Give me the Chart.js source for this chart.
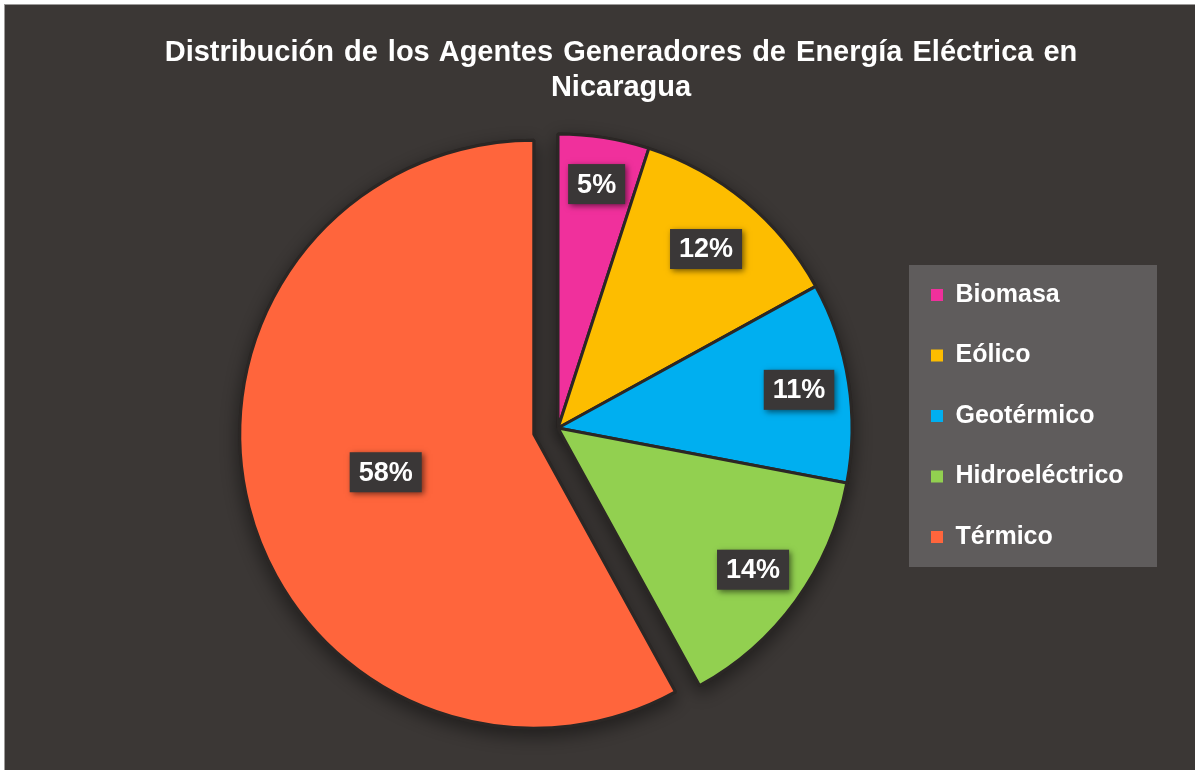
<!DOCTYPE html>
<html lang="es">
<head>
<meta charset="UTF-8">
<title>Agentes Generadores de Energía Eléctrica - Nicaragua</title>
<script src="https://cdn.jsdelivr.net/npm/chart.js"></script>
<style>
    body { margin: 0; background: #fff; }
    .marco {
        position: absolute;
        left: 4px;
        top: 4px;
        width: 1190px;
        height: 765px;
        border-top: 1px solid #9c9a99;
        border-left: 1px solid #9c9a99;
        background: #3b3735;
    }
    .titulo {
        position: absolute;
        left: 52px;
        top: 34px;
        width: 1138px;
        text-align: center;
        color: #fff;
        font: bold 29px 'Liberation Sans', Arial, sans-serif;
        line-height: 35px;
        word-spacing: 2px;
    }
</style>
</head>
<body>
<div class="marco"><canvas id="grafico"></canvas></div>
<div class="titulo">Distribución de los Agentes Generadores de Energía Eléctrica en<br>Nicaragua</div>
<script>
const categorias = ['Biomasa', 'Eólico', 'Geotérmico', 'Hidroeléctrico', 'Térmico'];
const porcentajes = [5, 12, 11, 14, 58];
const colores = ['#f0309c', '#fdbd00', '#00aff0', '#92d050', '#ff653c'];

// estilo: separación del sector Térmico y distancia de las etiquetas
const separacion = [0, 0, 0, 0, 25];
const radioEtiqueta = [0.84, 0.79, 0.83, 0.82, 0.52];

Chart.defaults.font.family = "'Liberation Sans', Arial, sans-serif";

// dibuja los sectores (con sombra y el sector separado)
const sectores = {
    id: 'sectores',
    beforeDatasetDraw(chart, args) {
        const ctx = chart.ctx;
        const arcs = args.meta.data;
        for (let paso = 0; paso < 2; paso++) {
            arcs.forEach((arc, i) => {
                ctx.save();
                if (paso === 0) {
                    ctx.shadowColor = 'rgba(0,0,0,0.45)';
                    ctx.shadowBlur = 18;
                    ctx.shadowOffsetY = 6;
                }
                if (separacion[i]) {
                    const mid = (arc.startAngle + arc.endAngle) / 2;
                    ctx.translate(Math.cos(mid) * separacion[i], Math.sin(mid) * separacion[i]);
                }
                arc.draw(ctx);
                ctx.restore();
            });
        }
        return false;
    },
    afterDatasetsDraw(chart) {
        const ctx = chart.ctx;
        const arcs = chart.getDatasetMeta(0).data;
        ctx.save();
        ctx.font = "bold 27px 'Liberation Sans', Arial, sans-serif";
        ctx.textAlign = 'center';
        ctx.textBaseline = 'middle';
        arcs.forEach((arc, i) => {
            const mid = (arc.startAngle + arc.endAngle) / 2;
            const r = arc.outerRadius * radioEtiqueta[i] + separacion[i];
            const x = arc.x + Math.cos(mid) * r;
            const y = arc.y + Math.sin(mid) * r;
            const texto = porcentajes[i] + '%';
            const w = ctx.measureText(texto).width + 18;
            const h = 40;
            ctx.save();
            ctx.shadowColor = 'rgba(0,0,0,0.55)';
            ctx.shadowBlur = 6;
            ctx.shadowOffsetX = 2;
            ctx.shadowOffsetY = 2;
            ctx.fillStyle = '#3a3737';
            ctx.fillRect(x - w / 2, y - h / 2, w, h);
            ctx.restore();
            ctx.fillStyle = '#ffffff';
            ctx.fillText(texto, x, y + 1);
        });
        ctx.restore();
    }
};

// caja gris detrás de la leyenda
const cajaLeyenda = {
    id: 'cajaLeyenda',
    beforeDraw(chart) {
        const hb = chart.legend.legendHitBoxes;
        if (!hb || !hb.length) return;
        const ultimo = hb[hb.length - 1];
        const ctx = chart.ctx;
        ctx.save();
        ctx.fillStyle = '#5f5c5c';
        ctx.fillRect(hb[0].left - 22, hb[0].top - 17.5, 248, ultimo.top + ultimo.height - hb[0].top + 35);
        ctx.restore();
    }
};

new Chart(document.getElementById('grafico'), {
    type: 'pie',
    data: {
        labels: categorias,
        datasets: [{
            data: porcentajes,
            backgroundColor: colores,
            borderColor: '#2b2725',
            borderWidth: 3,
            hoverBorderWidth: 3,
            hoverOffset: 0
        }]
    },
    options: {
        responsive: true,
        maintainAspectRatio: false,
        animation: false,
        layout: {
            padding: { left: 215.5, right: 65.5, top: 127.5, bottom: 46.5 }
        },
        plugins: {
            tooltip: { enabled: false },
            legend: {
                position: 'right',
                align: 'start',
                maxWidth: 234,
                title: { display: true, text: '', font: { size: 10 }, padding: { top: 102.5, bottom: 0 } },
                labels: {
                    color: '#ffffff',
                    font: { size: 25, weight: 'bold' },
                    boxWidth: 12,
                    boxHeight: 12,
                    padding: 35.5,
                    generateLabels: chart => Chart.overrides.pie.plugins.legend.labels.generateLabels(chart)
                        .map(item => Object.assign(item, { lineWidth: 0 }))
                }
            }
        }
    },
    plugins: [sectores, cajaLeyenda]
});
</script>
</body>
</html>
